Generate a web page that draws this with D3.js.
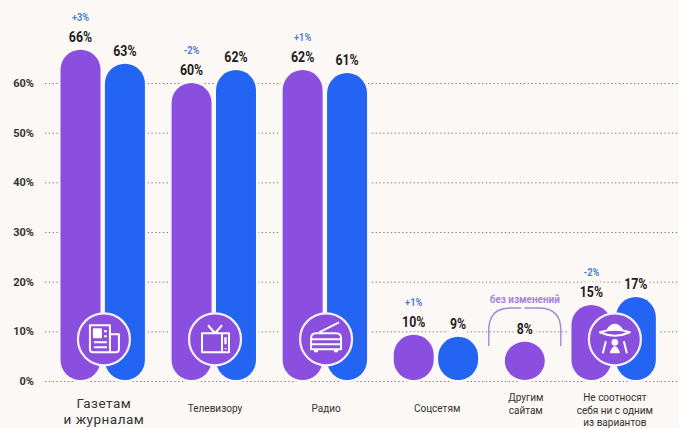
<!DOCTYPE html>
<html>
<head>
<meta charset="utf-8">
<script src="https://cdn.jsdelivr.net/npm/d3@7"></script>
<style>
  html, body { margin: 0; padding: 0; background: #fbf8f5; }
  svg { display: block; font-family: Roboto, sans-serif; }
</style>
</head>
<body>
<div id="chart"></div>
<script>
const categories = [
    ["Газетам", "и журналам"],
    ["Телевизору"],
    ["Радио"],
    ["Соцсетям"],
    ["Другим", "сайтам"],
    ["Не соотносят", "себя ни с одним", "из вариантов"]
];
// bar levels as drawn in the picture, in percent
const purpleValues = [66.7, 60, 62.6, 9.3, 7.9, 15.3];
const blueValues = [63.9, 62.6, 62, 8.9, null, 16.9];
const purpleLabels = ["66%", "60%", "62%", "10%", "8%", "15%"];
const blueLabels = ["63%", "62%", "61%", "9%", null, "17%"];
const changeLabels = ["+3%", "-2%", "+1%", "+1%", null, "-2%"];
const noChangeLabel = "без изменений";
const yTicks = [0, 10, 20, 30, 40, 50, 60];
const iconNames = ["news", "tv", "radio", null, null, "ufo"];

const width = 679, height = 428;
const bg = "#fbf8f5", purple = "#8a4fde", blue = "#2365f2";

const svg = d3.select("#chart").append("svg").attr("width", width).attr("height", height);

// a group takes two slots per bar and one slot of gap
const slots = [];
let pos = 0;
categories.forEach((c, i) => {
    slots.push(pos);
    pos += (blueValues[i] === null ? 2 : 4) + 1;
});

const x = d3.scaleLinear().domain([0, 28]).range([60.5, 682.5]);
const y = d3.scaleLinear().domain([0, 60]).range([381, 83]);
const barW = x(1.8) - x(0);

const bars = [];
categories.forEach((c, i) => {
    bars.push({ i, slot: slots[i], value: purpleValues[i], label: purpleLabels[i], color: purple, change: changeLabels[i] });
    if (blueValues[i] !== null)
        bars.push({ i, slot: slots[i] + 2, value: blueValues[i], label: blueLabels[i], color: blue });
});

// y axis with dotted grid
const axis = svg.append("g")
    .attr("transform", "translate(45,0)")
    .call(d3.axisLeft(y).tickValues(yTicks).tickFormat(d => d + "%").tickSize(-634).tickPadding(11));
axis.select(".domain").remove();
axis.selectAll("line").attr("stroke", "#85817d").attr("stroke-width", 1).attr("stroke-dasharray", "1.4 2.4");
axis.selectAll("text")
    .attr("font-family", "Roboto").attr("font-size", 11).attr("font-weight", 700).attr("fill", "#333");

const barCenter = d => x(d.slot) + barW / 2;

// value labels, narrowed since the original face is condensed
const squeeze = function() {
    d3.select(this).attr("textLength", this.getComputedTextLength() * 0.88).attr("lengthAdjust", "spacingAndGlyphs");
};
const halo = s => s.attr("stroke", bg).attr("stroke-width", 8).attr("paint-order", "stroke");

svg.append("g").selectAll("text")
    .data(bars)
    .join("text")
    .attr("x", barCenter)
    .attr("y", d => y(d.value) - 8)
    .attr("text-anchor", "middle")
    .attr("font-size", 14)
    .attr("font-weight", 700)
    .attr("fill", "#1d1d1d")
    .text(d => d.label)
    .call(halo)
    .each(squeeze);

svg.append("g").selectAll("text")
    .data(bars.filter(d => d.change))
    .join("text")
    .attr("x", barCenter)
    .attr("y", d => y(d.value) - 29)
    .attr("text-anchor", "middle")
    .attr("font-size", 10.5)
    .attr("font-weight", 700)
    .attr("fill", "#4f7fd2")
    .text(d => d.change)
    .call(halo)
    .each(squeeze);

// bars
svg.append("g").selectAll("rect")
    .data(bars)
    .join("rect")
    .attr("x", d => x(d.slot))
    .attr("y", d => y(d.value))
    .attr("width", barW)
    .attr("height", d => y(0) - 1 - y(d.value))
    .attr("rx", barW / 2)
    .attr("fill", d => d.color)
    .attr("stroke", bg)
    .attr("stroke-width", 5)
    .attr("paint-order", "stroke");

// bracket over the single bar
const only = bars.find(d => d.i === 4);
const bx0 = barCenter(only) - 36, bx1 = barCenter(only) + 36, by0 = 346, by1 = 308;
svg.append("path")
    .attr("d", `M${bx0},${by0}V${by1 + 22}Q${bx0},${by1} ${bx0 + 22},${by1}H${bx1 - 22}Q${bx1},${by1} ${bx1},${by1 + 22}V${by0}`)
    .attr("fill", "none")
    .attr("stroke", "#a585e2")
    .attr("stroke-width", 1.4);
svg.append("text")
    .attr("x", barCenter(only))
    .attr("y", 302.5)
    .attr("text-anchor", "middle")
    .attr("font-size", 11)
    .attr("font-weight", 700)
    .attr("fill", "#a585e2")
    .text(noChangeLabel)
    .call(halo)
    .attr("textLength", 70)
    .attr("lengthAdjust", "spacingAndGlyphs");

// icon badges
const icons = {
    news(g) {
        g.append("path").attr("d", "M-14,-14H6V13H-11Q-14,13 -14,10Z M6,-5H15V10Q15,13 12,13H6");
        g.append("rect").attr("x", -10).attr("y", -10).attr("width", 7).attr("height", 8).attr("fill", "#fff");
        g.append("path").attr("d", "M0,-8H3M0,-3H3M-10,3H3M-10,8H3");
    },
    tv(g) {
        g.append("path").attr("d", "M-13,-6H14V13H-13Z M-7,-14L0,-6L7,-14");
        g.append("path").attr("d", "M7,-6V13");
        g.append("path").attr("d", "M10.5,-2V5M10.5,9V10").attr("stroke-width", 2.4);
    },
    radio(g) {
        g.append("path").attr("d", "M-15,-1Q-15,-6 -10,-6H10Q15,-6 15,-1V10H-15Z M-15,0H15M-15,5H15");
        g.append("path").attr("d", "M-7,-7L13,-17");
        g.append("path").attr("d", "M-10,10V13M10,10V13").attr("stroke-width", 4);
    },
    ufo(g) {
        g.append("path").attr("d", "M-7,-10Q0,-19 7,-10Z").attr("fill", "#fff");
        g.append("path").attr("d", "M-15,-7Q0,-12 15,-7Q0,0 -15,-7Z");
        g.append("path").attr("d", "M-9,2L-12,14M9,2L12,14");
        g.append("circle").attr("cx", 0).attr("cy", 3).attr("r", 2.4).attr("fill", "#fff");
        g.append("path").attr("d", "M-4,13Q0,3 4,13Z").attr("fill", "#fff");
    }
};

const badges = categories.map((c, i) => ({ i, name: iconNames[i], cx: x(slots[i]) + (x(2) - x(0)) - 1 })).filter(d => d.name);
const badge = svg.append("g").selectAll("g")
    .data(badges)
    .join("g")
    .attr("transform", d => `translate(${d.cx},${y(8.4)})`);
badge.append("circle")
    .attr("r", 26)
    .attr("fill", purple)
    .attr("stroke", "#f6f0fb")
    .attr("stroke-width", 2.2);
badge.append("g")
    .attr("fill", "none")
    .attr("stroke", "#fff")
    .attr("stroke-width", 2)
    .attr("stroke-linejoin", "round")
    .each(function(d) { icons[d.name](d3.select(this)); });

// category labels
const groupCenter = i => x(slots[i]) + (blueValues[i] === null ? barW / 2 + 1 : (x(2) - x(0)) - 1);
const catGroups = svg.append("g").selectAll("text")
    .data(categories.map((lines, i) => ({ lines, i })))
    .join("text")
    .attr("text-anchor", "middle")
    .attr("fill", "#333")
    .attr("letter-spacing", d => d.i === 0 ? 0.5 : 0)
    .attr("font-size", d => d.i === 0 ? 13.5 : 10);
catGroups.selectAll("tspan")
    .data(d => d.lines.map((t, k) => ({ t, k, d })))
    .join("tspan")
    .attr("x", e => groupCenter(e.d.i))
    .attr("y", e => {
        if (e.d.i === 0) return 408 + e.k * 16;
        if (e.d.lines.length === 1) return 412;
        return 401 + e.k * 12.5;
    })
    .text(e => e.t);
</script>
</body>
</html>
